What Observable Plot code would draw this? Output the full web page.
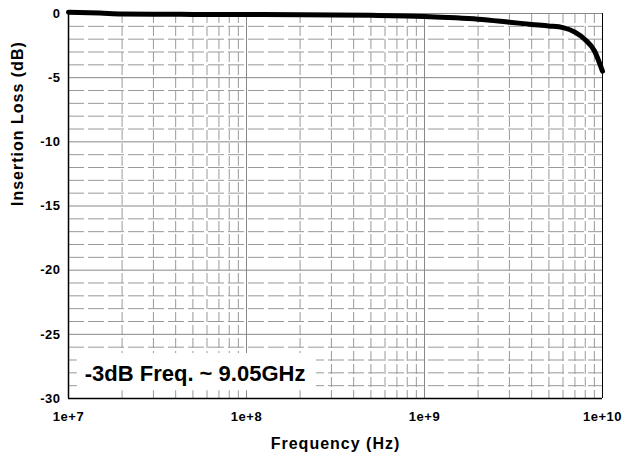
<!DOCTYPE html>
<html>
<head>
<meta charset="utf-8">
<script src="https://cdn.jsdelivr.net/npm/d3@7"></script>
<script src="https://cdn.jsdelivr.net/npm/@observablehq/plot@0.6"></script>
<style>
  html, body { margin: 0; padding: 0; background: white; }
  svg text { font-weight: bold; }
</style>
</head>
<body>
<div id="chart"></div>
<script>
// Measured insertion loss curve
const freq = [1e7, 1.5e7, 2e7, 3e7, 5e7, 1e8, 2e8, 5e8, 1e9, 1.5e9, 2e9, 3e9, 4e9, 5e9, 6e9, 7e9, 8e9, 9e9, 1e10];
const loss = [0.1, 0.03, -0.04, -0.06, -0.07, -0.08, -0.09, -0.14, -0.23, -0.34, -0.45, -0.68, -0.85, -0.97, -1.1, -1.45, -2.05, -2.9, -4.5];

// Axis ticks and labels
const xTicks = [1e7, 1e8, 1e9, 1e10];
const xTickLabels = ["1e+7", "1e+8", "1e+9", "1e+10"];
const yTicks = [0, -5, -10, -15, -20, -25, -30];
const yTickLabels = ["0", "-5", "-10", "-15", "-20", "-25", "-30"];
const xTitle = "Frequency (Hz)";
const yTitle = "Insertion Loss (dB)";

// Annotation
const annotText = ["-3dB Freq. ~ 9.05GHz"];
const annotPos = [{x: 5.14e7, y: -28.1}];
const annotBox = [{x1: 1.12e7, x2: 2.47e8, y1: -26.5, y2: -29.4}];

// Grid line positions
const decades = [1e7, 1e8, 1e9];
const xMinor = decades.flatMap(d => [2,3,4,5,6,7,8,9].map(k => k * d));
const yMinor = d3.range(-29, 0, 1).filter(v => v % 5 !== 0);

const data = freq.map((f, i) => ({f, v: loss[i]}));
const font = "'Liberation Sans', Arial, Helvetica, sans-serif";

const chart = Plot.plot({
  width: 623,
  height: 463,
  marginLeft: 68,
  marginRight: 21,
  marginTop: 13,
  marginBottom: 65,
  style: {fontFamily: font, fontWeight: "bold", fontSize: "12px", background: "white", color: "black"},
  x: {type: "log", domain: [1e7, 1e10]},
  y: {domain: [-30, 0]},
  marks: [
    Plot.ruleY(yMinor, {stroke: "#999", strokeWidth: 1, strokeDasharray: "16,4"}),
    Plot.ruleX(xMinor, {stroke: "#999", strokeWidth: 1, strokeDasharray: "10,3"}),
    Plot.ruleY(yTicks, {stroke: "#888", strokeWidth: 1}),
    Plot.ruleX(xTicks, {stroke: "#888", strokeWidth: 1}),
    Plot.rect(annotBox, {x1: "x1", x2: "x2", y1: "y1", y2: "y2", fill: "white"}),
    Plot.text(annotPos, {x: "x", y: "y", text: (d, i) => annotText[i], fontSize: 22, fontWeight: "bold", fill: "black", textAnchor: "middle"}),
    Plot.ruleY([0], {stroke: "#888", strokeWidth: 1}),
    Plot.ruleX([1e10], {stroke: "black", strokeWidth: 1}),
    Plot.ruleX([1e7], {stroke: "black", strokeWidth: 1.5}),
    Plot.ruleY([-30], {stroke: "black", strokeWidth: 1.5}),
    Plot.line(data, {x: "f", y: "v", stroke: "black", strokeWidth: 5, curve: "monotone-x", strokeLinecap: "round", strokeLinejoin: "round"}),
    Plot.axisX({ticks: xTicks, tickFormat: d => xTickLabels[xTicks.indexOf(d)], tickSize: 0, tickPadding: 13, label: null, fontSize: 13}),
    Plot.axisY({ticks: yTicks, tickFormat: d => yTickLabels[yTicks.indexOf(d)], tickSize: 0, tickPadding: 8, label: null, fontSize: 13}),
    Plot.text([xTitle], {frameAnchor: "bottom", dy: 50, text: d => d, fontSize: 16, fontWeight: "bold", fill: "black"}),
    Plot.text([yTitle], {frameAnchor: "left", dx: -50.5, rotate: -90, text: d => d, fontSize: 16, fontWeight: "bold", fill: "black"})
  ]
});
document.getElementById("chart").appendChild(chart);
const svg = d3.select(chart);
svg.selectAll("text").style("font-weight", "bold").attr("fill", "black");
svg.selectAll("text").filter(function() { return xTickLabels.includes(this.textContent) || yTickLabels.includes(this.textContent); })
  .style("font-size", "13px").style("letter-spacing", "0.5px");
svg.selectAll("text").filter(function() { return this.textContent === xTitle || this.textContent === yTitle; })
  .style("letter-spacing", "1px");
</script>
</body>
</html>
